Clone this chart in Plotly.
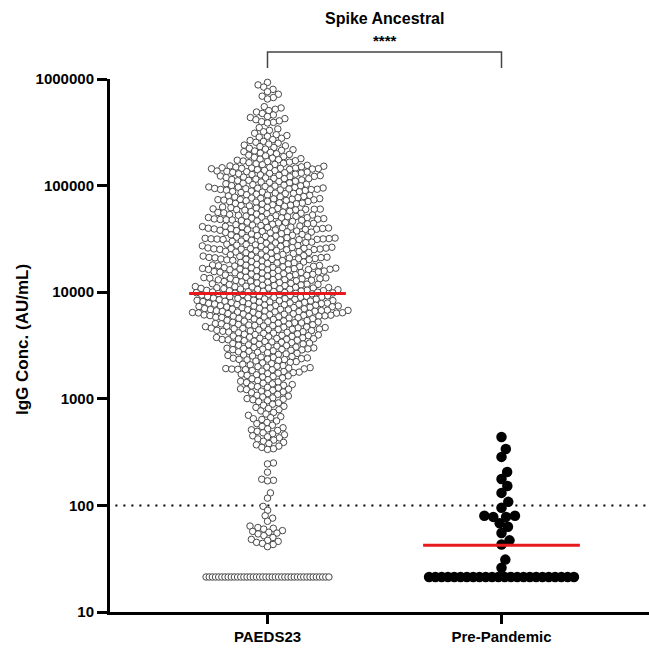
import numpy as np
import plotly.graph_objects as go

# ---------------- data (IgG concentration, AU/mL) ----------------
groups = ["PAEDS23", "Pre-Pandemic"]

paeds23_above_1e5 = [
    9.3e5, 8.8e5, 8.4e5, 8.0e5, 7.6e5, 7.2e5, 6.9e5, 6.7e5, 6.5e5,
    5.5e5, 5.35e5, 5.2e5, 5.05e5, 4.9e5, 4.75e5, 4.6e5, 4.45e5, 4.35e5, 4.25e5, 4.15e5, 4.05e5, 3.98e5, 3.92e5, 3.87e5,
    3.5e5, 3.4e5, 3.3e5, 3.2e5, 3.1e5, 3.0e5, 2.95e5, 2.9e5, 2.85e5, 2.78e5, 2.7e5,
    2.65e5, 2.6e5, 2.55e5, 2.5e5, 2.45e5, 2.4e5, 2.36e5, 2.32e5, 2.28e5, 2.24e5, 2.2e5, 2.17e5,
    2.14e5, 2.11e5, 2.08e5, 2.05e5, 2.02e5, 1.99e5, 1.96e5, 1.93e5, 1.9e5, 1.87e5, 1.84e5, 1.81e5, 1.79e5, 1.77e5, 1.75e5,
    1.73e5, 1.71e5, 1.70e5, 1.68e5, 1.66e5, 1.64e5, 1.62e5, 1.60e5, 1.58e5, 1.57e5, 1.55e5, 1.53e5, 1.52e5, 1.50e5,
    1.49e5, 1.48e5, 1.47e5, 1.46e5, 1.46e5, 1.45e5, 1.45e5, 1.44e5, 1.44e5, 1.43e5, 1.42e5, 1.41e5,
    1.39e5, 1.38e5, 1.37e5, 1.36e5, 1.35e5, 1.34e5, 1.33e5, 1.32e5, 1.31e5, 1.30e5, 1.29e5, 1.28e5, 1.27e5, 1.26e5,
    1.25e5, 1.24e5, 1.23e5, 1.22e5, 1.21e5, 1.20e5, 1.19e5, 1.18e5, 1.17e5, 1.16e5, 1.16e5, 1.15e5, 1.14e5, 1.13e5,
    1.12e5, 1.11e5, 1.10e5, 1.09e5, 1.08e5, 1.07e5, 1.06e5, 1.05e5, 1.04e5, 1.03e5, 1.02e5, 1.01e5, 1.00e5,
]

paeds23_1e4_to_1e5 = [
    9.95e4, 9.9e4, 9.8e4, 9.7e4, 9.65e4, 9.6e4, 9.5e4, 9.45e4, 9.4e4, 9.35e4, 9.3e4, 9.25e4, 9.2e4, 9.18e4, 9.15e4, 9.12e4,
    9.05e4, 9.0e4, 8.9e4, 8.8e4, 8.75e4, 8.7e4, 8.6e4, 8.5e4, 8.45e4, 8.4e4, 8.3e4, 8.2e4, 8.15e4, 8.1e4,
    8.0e4, 7.9e4, 7.85e4, 7.8e4, 7.7e4, 7.65e4, 7.6e4, 7.55e4, 7.5e4, 7.45e4, 7.4e4, 7.38e4, 7.35e4,
    7.3e4, 7.25e4, 7.2e4, 7.15e4, 7.1e4, 7.05e4, 7.0e4, 6.9e4, 6.85e4, 6.8e4, 6.75e4, 6.7e4, 6.6e4, 6.55e4,
    6.5e4, 6.45e4, 6.4e4, 6.3e4, 6.25e4, 6.2e4, 6.15e4, 6.1e4, 6.05e4, 6.02e4, 6.0e4, 5.98e4, 5.95e4, 5.92e4,
    5.88e4, 5.84e4, 5.8e4, 5.75e4, 5.7e4, 5.65e4, 5.6e4, 5.55e4, 5.5e4, 5.45e4, 5.4e4, 5.35e4, 5.3e4, 5.26e4, 5.22e4,
    5.18e4, 5.14e4, 5.1e4, 5.06e4, 5.02e4, 5.0e4, 4.98e4, 4.95e4, 4.92e4, 4.9e4, 4.87e4, 4.84e4, 4.81e4, 4.78e4, 4.76e4,
    4.73e4, 4.7e4, 4.66e4, 4.62e4, 4.58e4, 4.54e4, 4.5e4, 4.46e4, 4.42e4, 4.38e4, 4.34e4, 4.3e4, 4.26e4, 4.22e4, 4.18e4,
    4.15e4, 4.12e4, 4.1e4, 4.08e4, 4.05e4, 4.02e4, 4.0e4, 3.98e4, 3.96e4, 3.94e4, 3.92e4, 3.9e4, 3.88e4, 3.86e4, 3.85e4, 3.84e4,
    3.81e4, 3.78e4, 3.75e4, 3.72e4, 3.69e4, 3.66e4, 3.63e4, 3.6e4, 3.57e4, 3.54e4, 3.51e4, 3.48e4, 3.45e4, 3.42e4, 3.39e4, 3.36e4,
    3.33e4, 3.3e4, 3.28e4, 3.26e4, 3.24e4, 3.22e4, 3.2e4, 3.18e4, 3.17e4, 3.16e4, 3.15e4, 3.14e4, 3.13e4, 3.12e4, 3.11e4, 3.1e4,
    3.07e4, 3.05e4, 3.02e4, 3.0e4, 2.98e4, 2.95e4, 2.92e4, 2.9e4, 2.88e4, 2.85e4, 2.82e4, 2.8e4, 2.78e4, 2.76e4, 2.74e4, 2.72e4,
    2.7e4, 2.68e4, 2.66e4, 2.64e4, 2.62e4, 2.6e4, 2.59e4, 2.58e4, 2.57e4, 2.56e4, 2.55e4, 2.54e4, 2.53e4, 2.52e4, 2.51e4, 2.5e4,
    2.48e4, 2.46e4, 2.44e4, 2.42e4, 2.4e4, 2.38e4, 2.36e4, 2.34e4, 2.32e4, 2.3e4, 2.28e4, 2.26e4, 2.24e4, 2.22e4, 2.2e4, 2.18e4,
    2.16e4, 2.15e4, 2.14e4, 2.13e4, 2.12e4, 2.11e4, 2.1e4, 2.09e4, 2.08e4, 2.07e4, 2.06e4, 2.05e4, 2.04e4, 2.03e4, 2.02e4, 2.01e4,
    1.99e4, 1.98e4, 1.96e4, 1.94e4, 1.92e4, 1.9e4, 1.89e4, 1.88e4, 1.86e4, 1.84e4, 1.82e4, 1.8e4, 1.79e4, 1.78e4, 1.77e4, 1.76e4,
    1.75e4, 1.74e4, 1.73e4, 1.72e4, 1.71e4, 1.7e4, 1.69e4, 1.68e4, 1.67e4, 1.66e4, 1.65e4, 1.64e4, 1.635e4, 1.63e4, 1.625e4, 1.62e4, 1.615e4,
    1.6e4, 1.59e4, 1.58e4, 1.57e4, 1.56e4, 1.55e4, 1.54e4, 1.53e4, 1.52e4, 1.51e4, 1.5e4, 1.49e4, 1.48e4, 1.47e4, 1.46e4, 1.45e4,
    1.44e4, 1.43e4, 1.42e4, 1.41e4, 1.4e4, 1.39e4, 1.38e4, 1.37e4, 1.36e4, 1.35e4, 1.345e4, 1.34e4, 1.33e4, 1.32e4, 1.315e4, 1.31e4, 1.305e4,
    1.295e4, 1.29e4, 1.28e4, 1.27e4, 1.26e4, 1.25e4, 1.24e4, 1.23e4, 1.22e4, 1.21e4, 1.2e4, 1.19e4, 1.185e4, 1.18e4, 1.17e4, 1.16e4, 1.155e4,
    1.15e4, 1.14e4, 1.13e4, 1.125e4, 1.12e4, 1.11e4, 1.105e4, 1.1e4, 1.095e4, 1.09e4, 1.085e4, 1.08e4, 1.075e4, 1.07e4, 1.065e4, 1.06e4, 1.055e4,
    1.045e4, 1.04e4, 1.035e4, 1.03e4, 1.025e4, 1.02e4, 1.015e4, 1.01e4, 1.005e4, 1.0e4,
]

paeds23_1e3_to_1e4 = [
    9950, 9900, 9850, 9800, 9750, 9700, 9650, 9600, 9550, 9500, 9450, 9400, 9350, 9300, 9250, 9200, 9150, 9100, 9050, 9000,
    8950, 8900, 8850, 8800, 8750, 8700, 8650, 8600, 8550, 8500,
    8420, 8380, 8340, 8300, 8260, 8220, 8180, 8140, 8100, 8060, 8020, 7980, 7940, 7900, 7860, 7820, 7780, 7740, 7700, 7660,
    7620, 7580, 7540, 7500, 7460, 7420, 7380, 7340, 7300, 7260, 7220, 7180, 7140, 7100, 7060, 7020, 6980, 6940, 6900, 6870, 6840, 6820,
    6780, 6750, 6720, 6690, 6660, 6630, 6600, 6570, 6540, 6510, 6480, 6450, 6420, 6390, 6360, 6330, 6300, 6270, 6240, 6210,
    6180, 6150, 6120, 6090, 6060, 6030, 6000, 5970, 5940, 5910, 5880, 5850, 5820, 5790, 5760, 5720, 5680, 5640, 5600, 5550,
    5450, 5420, 5380, 5350, 5320, 5280, 5250, 5220, 5180, 5150, 5120, 5080, 5050, 5020, 4980, 4950, 4920, 4880, 4850, 4820,
    4780, 4750, 4720, 4690, 4660, 4630, 4600, 4570, 4540, 4510, 4490, 4470, 4450, 4430,
    4390, 4360, 4330, 4300, 4260, 4230, 4200, 4160, 4130, 4100, 4060, 4030, 4000, 3970, 3940, 3910, 3880, 3850, 3820, 3790,
    3760, 3730, 3700, 3680, 3660, 3640, 3620, 3600, 3580,
    3540, 3510, 3480, 3450, 3420, 3390, 3360, 3330, 3300, 3270, 3240, 3210, 3180, 3150, 3120, 3090, 3060, 3030, 3000, 2980,
    2960, 2940, 2920, 2900, 2890, 2880,
    2850, 2820, 2790, 2760, 2730, 2700, 2670, 2640, 2610, 2580, 2550, 2520, 2490, 2460, 2440, 2420, 2400, 2380, 2360, 2340, 2330, 2320,
    2290, 2260, 2230, 2200, 2170, 2140, 2110, 2080, 2050, 2020, 2000, 1980, 1960, 1940, 1920, 1910, 1900, 1890, 1880, 1870,
    1840, 1820, 1800, 1780, 1760, 1740, 1720, 1700, 1680, 1660, 1640, 1620, 1600, 1570, 1540, 1510,
    1480, 1460, 1440, 1420, 1400, 1380, 1360, 1340, 1320, 1300, 1280, 1260, 1240, 1230, 1220,
    1200, 1180, 1160, 1140, 1120, 1100, 1080, 1060, 1040, 1020, 1005,
]

paeds23_below_1e3 = [
    990, 980, 960, 940, 915, 890, 870, 850, 830, 810, 790, 770, 745, 720, 700, 680, 665, 650, 640,
    620, 600, 585, 565, 550, 535, 522, 512,
    505, 495, 480, 470, 460, 450, 440, 430, 420, 410, 400, 390, 380, 370, 360, 350, 340, 335,
    250, 245, 205, 176, 172, 170, 131, 117,
    98, 90, 80, 76, 71, 64, 62, 61, 60, 58, 57, 56, 55, 54, 52, 50, 48, 47, 46, 45, 44, 43, 41,
]

paeds23_at_lloq = [
    21.3, 21.3, 21.3, 21.3, 21.3, 21.3, 21.3, 21.3, 21.3, 21.3,
    21.3, 21.3, 21.3, 21.3, 21.3, 21.3, 21.3, 21.3, 21.3, 21.3,
    21.3, 21.3, 21.3, 21.3, 21.3, 21.3, 21.3, 21.3, 21.3, 21.3,
    21.3, 21.3, 21.3, 21.3, 21.3, 21.3, 21.3, 21.3, 21.3, 21.3,
]

prepandemic_detected = [438, 338, 285, 206, 177, 152, 131, 108, 95, 80, 78, 80, 78, 68, 63, 55, 47, 43, 31, 26]
prepandemic_at_lloq = [
    21.3, 21.3, 21.3, 21.3, 21.3, 21.3, 21.3, 21.3, 21.3, 21.3, 21.3, 21.3,
    21.3, 21.3, 21.3, 21.3, 21.3, 21.3, 21.3, 21.3, 21.3, 21.3, 21.3, 21.3,
]

cutoff_value = 100
y_tick_vals = [10, 100, 1000, 10000, 100000, 1000000]
y_tick_text = ["10", "100", "1000", "10000", "100000", "1000000"]
significance = "****"

paeds23 = paeds23_above_1e5 + paeds23_1e4_to_1e5 + paeds23_1e3_to_1e4 + paeds23_below_1e3 + paeds23_at_lloq
prepandemic = prepandemic_detected + prepandemic_at_lloq

# ---------------- layout geometry (pixels) ----------------
W, H = 649, 648
L, R, T, B = 110, 649, 79, 612
CX = [267.5, 501.5]
UNIT = CX[1] - CX[0]
XR = [(L - CX[0]) / UNIT, (R - CX[0]) / UNIT]
FONT = "Liberation Sans, Arial, sans-serif"


def ypix(v):
    return B - (np.log10(v) - 1.0) * (B - T) / 5.0


def swarm(vals, d, tie_spacing, tie_min=8):
    """Greedy beeswarm in pixel space; large groups of identical values form a compressed row."""
    vals = np.asarray(vals, float)
    py = ypix(vals)
    n = len(vals)
    xs = np.zeros(n)
    placed = np.zeros(n, bool)
    uniq, counts = np.unique(vals, return_counts=True)
    for u, c in zip(uniq, counts):
        if c >= tie_min:
            idx = np.where(vals == u)[0]
            xs[idx] = (np.arange(c) - (c - 1) / 2.0) * tie_spacing
    order = np.argsort(-py, kind="stable")
    tie_mask = np.isin(vals, [u for u, c in zip(uniq, counts) if c >= tie_min])
    for i in order:
        if tie_mask[i]:
            continue
        pidx = np.where(placed)[0]
        dy = py[pidx] - py[i]
        m = np.abs(dy) < d
        nx = xs[pidx][m]
        ndy = dy[m]
        if len(nx) == 0:
            xs[i] = 0.0
        else:
            dx = np.sqrt(d * d - ndy * ndy)
            cands = np.concatenate([[0.0], nx - dx, nx + dx])
            cands = cands[np.argsort(np.abs(cands) + 1e-9 * (cands < 0), kind="stable")]
            dist2 = (cands[:, None] - nx[None, :]) ** 2 + ndy[None, :] ** 2
            ok = np.all(dist2 >= d * d - 1e-6, axis=1)
            xs[i] = cands[np.argmax(ok)]
        placed[i] = True
    return xs


fig = go.Figure()

px_a = swarm(paeds23, d=6.0, tie_spacing=3.15)
fig.add_trace(go.Scatter(
    x=0 + px_a / UNIT, y=paeds23, mode="markers",
    marker=dict(symbol="circle", size=6.5, color="white", line=dict(color="#474747", width=1)),
    showlegend=False, hoverinfo="y", cliponaxis=False))

px_b = swarm(prepandemic, d=9.0, tie_spacing=6.3)
fig.add_trace(go.Scatter(
    x=1 + px_b / UNIT, y=prepandemic, mode="markers",
    marker=dict(symbol="circle", size=10.5, color="black", line=dict(width=0)),
    showlegend=False, hoverinfo="y", cliponaxis=False))

# central tendency lines (geometric mean)
for k, vals in enumerate([paeds23, prepandemic]):
    g = 10 ** np.mean(np.log10(vals))
    fig.add_trace(go.Scatter(
        x=[k - 0.335, k + 0.335], y=[g, g], mode="lines",
        line=dict(color="#e8191c", width=3), showlegend=False, hoverinfo="skip"))

ypap = lambda p: (B - p) / (B - T)

shapes = [
    dict(type="line", xref="paper", yref="paper", x0=0.01, x1=1, y0=(np.log10(cutoff_value) - 1) / 5,
         y1=(np.log10(cutoff_value) - 1) / 5, line=dict(color="black", width=2, dash="2px,6px"), layer="below"),
    dict(type="path", xref="x", yref="paper",
         path=f"M 0 {ypap(68)} L 0 {ypap(52)} L 1 {ypap(52)} L 1 {ypap(68)}",
         line=dict(color="#444444", width=1.5)),
]

annotations = [
    dict(text="<b>Spike Ancestral</b>", x=0.5, xref="x", y=ypap(18), yref="paper", showarrow=False,
         xanchor="center", yanchor="middle", font=dict(family=FONT, size=16, color="black")),
    dict(text=f"<b>{significance}</b>", x=0.5, xref="x", y=ypap(41), yref="paper", showarrow=False,
         xanchor="center", yanchor="middle", font=dict(family=FONT, size=15, color="black")),
    dict(text="<b>IgG Conc. (AU/mL)</b>", x=(22 - L) / (R - L), xref="paper", y=ypap(340), yref="paper",
         showarrow=False, textangle=-90, xanchor="center", yanchor="middle",
         font=dict(family=FONT, size=17, color="black")),
]

fig.update_layout(
    width=W, height=H, margin=dict(l=L, r=W - R, t=T, b=H - B),
    paper_bgcolor="white", plot_bgcolor="white",
    shapes=shapes, annotations=annotations, showlegend=False,
    xaxis=dict(range=XR, tickvals=[0, 1], ticktext=groups, ticks="outside", ticklen=9, tickwidth=3,
               tickcolor="black", showline=True, linewidth=3, linecolor="black", showgrid=False,
               zeroline=False, tickfont=dict(family=FONT, size=15, color="black", weight="bold")),
    yaxis=dict(type="log", range=[1, 6], tickvals=y_tick_vals, ticktext=y_tick_text, ticks="outside",
               ticklen=10, tickwidth=3, tickcolor="black", showline=True, linewidth=3, linecolor="black",
               showgrid=False, zeroline=False,
               tickfont=dict(family=FONT, size=15, color="black", weight="bold")),
)

fig.write_html("out.html")
